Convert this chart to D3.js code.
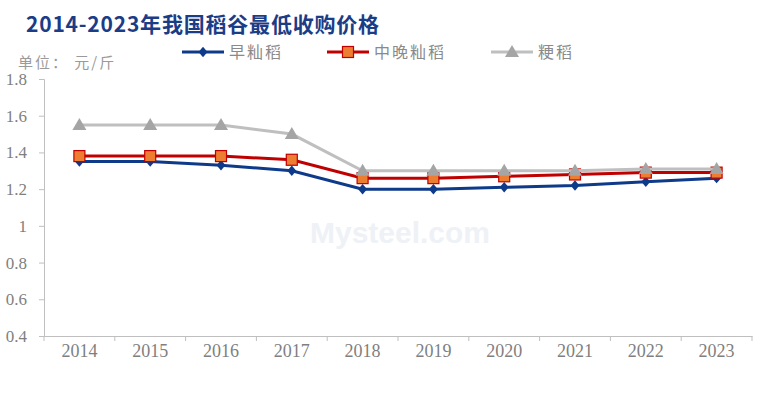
<!DOCTYPE html>
<html>
<head>
<meta charset="utf-8">
<script src="https://cdn.jsdelivr.net/npm/d3@7"></script>
<style>
  body { margin: 0; background: #fff; }
  svg { display: block; }
</style>
</head>
<body>
<div id="chart"></div>
<script>
// 2014-2023 rice minimum purchase price
var w = 768, h = 413;
var years = ["2014", "2015", "2016", "2017", "2018", "2019", "2020", "2021", "2022", "2023"];
var zaoxian = [1.35, 1.35, 1.33, 1.30, 1.20, 1.20, 1.21, 1.22, 1.24, 1.26];
var zhongwan = [1.38, 1.38, 1.38, 1.36, 1.26, 1.26, 1.27, 1.28, 1.29, 1.29];
var jingdao = [1.55, 1.55, 1.55, 1.50, 1.30, 1.30, 1.30, 1.30, 1.31, 1.31];
var seriesNames = ["早籼稻", "中晚籼稻", "粳稻"];
var yTicks = [0.4, 0.6, 0.8, 1, 1.2, 1.4, 1.6, 1.8];

var plotLeft = 44, plotRight = 752, plotTop = 79, plotBottom = 336;
var axisColor = "#BFBFBF", labelColor = "#7f7f7f";

var svg = d3.select("#chart").append("svg")
    .attr("width", w)
    .attr("height", h);

var x = d3.scaleBand().domain(years).range([plotLeft, plotRight]);
var y = d3.scaleLinear().domain([0.4, 1.8]).range([plotBottom, plotTop]);

// title
svg.append("text")
    .attr("x", 26).attr("y", 32)
    .attr("font-family", "Noto Sans CJK SC")
    .attr("font-weight", "bold")
    .attr("font-size", 21)
    .attr("letter-spacing", 0.8)
    .attr("fill", "#1B3C86")
    .text("2014-2023年我国稻谷最低收购价格");

svg.append("text")
    .attr("x", 18).attr("y", 68)
    .attr("font-family", "Noto Sans CJK SC")
    .attr("font-size", 15)
    .attr("letter-spacing", 2)
    .attr("fill", "#9a9a9a")
    .text("单位： 元/斤");

// watermark
svg.append("text")
    .attr("x", 400).attr("y", 243)
    .attr("text-anchor", "middle")
    .attr("font-family", "Liberation Sans")
    .attr("font-weight", "bold")
    .attr("font-size", 30)
    .attr("fill", "#eef1f6")
    .text("Mysteel.com");

// axes
var yAxis = svg.append("g")
    .attr("transform", "translate(" + plotLeft + ",0)")
    .call(d3.axisLeft(y).tickValues(yTicks).tickSize(5).tickPadding(12).tickFormat(d3.format("")));
var xAxis = svg.append("g")
    .attr("transform", "translate(0," + plotBottom + ")")
    .call(d3.axisBottom(x).tickSize(0));

[yAxis, xAxis].forEach(function(a) {
    a.select(".domain").attr("stroke", axisColor);
    a.selectAll(".tick line").attr("stroke", axisColor);
    a.selectAll("text")
        .attr("fill", labelColor)
        .attr("font-family", "Liberation Serif")
        .attr("font-size", 17);
});
xAxis.selectAll("text")
    .attr("font-size", 18)
    .attr("y", 21)
    .attr("dy", 0);

// band boundary ticks on x axis
svg.append("g").selectAll("line")
    .data(years.concat(["end"]))
    .enter().append("line")
    .attr("x1", function(d, i) { return plotLeft + i * x.step(); })
    .attr("x2", function(d, i) { return plotLeft + i * x.step(); })
    .attr("y1", plotBottom).attr("y2", plotBottom + 5)
    .attr("stroke", axisColor);

var cx = function(d, i) { return x(years[i]) + x.bandwidth() / 2; };
var line = d3.line().x(cx).y(function(d) { return y(d); });

var series = [
    { name: seriesNames[0], data: zaoxian, color: "#0E3A8A", marker: "diamond", fill: "#0E3A8A" },
    { name: seriesNames[1], data: zhongwan, color: "#C00000", marker: "square", fill: "#ED7D31" },
    { name: seriesNames[2], data: jingdao, color: "#BFBFBF", marker: "triangle", fill: "#A5A5A5" }
];

function drawMarker(g, s, px, py) {
    if (s.marker === "diamond") {
        g.append("path")
            .attr("d", d3.symbol().type(d3.symbolDiamond2).size(70)())
            .attr("transform", "translate(" + px + "," + py + ") scale(0.85,1)")
            .attr("fill", s.fill);
    } else if (s.marker === "square") {
        g.append("rect")
            .attr("x", px - 5.5).attr("y", py - 5.5)
            .attr("width", 11).attr("height", 11)
            .attr("fill", s.fill)
            .attr("stroke", s.color)
            .attr("stroke-width", 1.2);
    } else {
        g.append("path")
            .attr("d", "M" + px + "," + (py - 7) + "L" + (px + 7) + "," + (py + 5) + "L" + (px - 7) + "," + (py + 5) + "Z")
            .attr("fill", s.fill);
    }
}

// draw series: blue first, then red, then gray on top
series.forEach(function(s) {
    var g = svg.append("g");
    g.append("path")
        .datum(s.data)
        .attr("d", line)
        .attr("fill", "none")
        .attr("stroke", s.color)
        .attr("stroke-width", 3);
    s.data.forEach(function(v, i) {
        drawMarker(g, s, cx(v, i), y(v));
    });
});

// legend
var legendX = [182, 327, 491];
series.forEach(function(s, i) {
    var g = svg.append("g");
    var lx = legendX[i], ly = 52;
    g.append("line")
        .attr("x1", lx).attr("x2", lx + 42)
        .attr("y1", ly).attr("y2", ly)
        .attr("stroke", s.color)
        .attr("stroke-width", 3);
    drawMarker(g, s, lx + 21, ly);
    g.append("text")
        .attr("x", lx + 47).attr("y", ly + 6)
        .attr("font-family", "Noto Sans CJK SC")
        .attr("font-size", 16)
        .attr("letter-spacing", 2)
        .attr("fill", "#8a8a8a")
        .text(s.name);
});
</script>
</body>
</html>
